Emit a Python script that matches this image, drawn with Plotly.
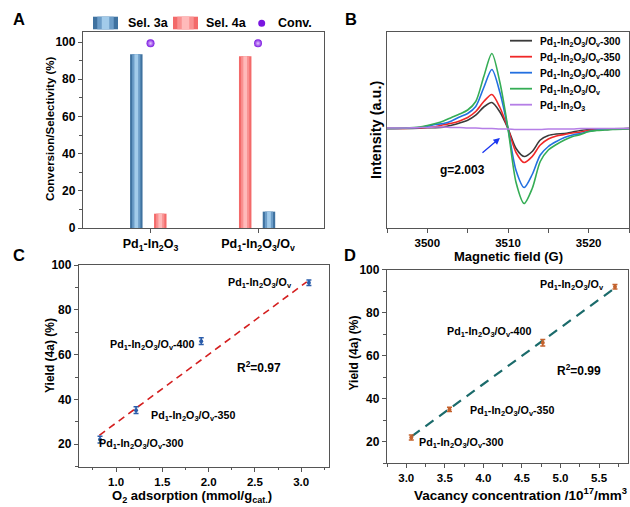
import plotly.graph_objects as go

W, H = 630, 507
FONT = "Liberation Sans, Arial, sans-serif"

# ---- panel A: conversion / selectivity
catalysts = ["Pd<sub>1</sub>-In<sub>2</sub>O<sub>3</sub>",
             "Pd<sub>1</sub>-In<sub>2</sub>O<sub>3</sub>/O<sub>v</sub>"]
sel_3a = [93.5, 8.8]
sel_4a = [7.7, 92.3]
conv = [99.3, 99.3]

# ---- panel B: EPR spectra (intensity, arbitrary units)
field = [3495, 3497, 3499, 3500, 3501, 3502, 3503, 3504, 3505, 3506, 3507, 3508, 3509, 3510,
         3511, 3512, 3513, 3514, 3515, 3516, 3517, 3518, 3519, 3520, 3521, 3522, 3523, 3525]
epr_300 = [0, 0, 0.3, 0.7, 0.7, 1.3, 3.3, 5.6, 8.3, 13.3, 21.5, 26, 16.5, 0,
           -20, -28, -23, -11.5, -7, -5.5, -5, -3.5, -2, -1, -0.7, -0.5, -0.3, 0]
epr_350 = [0, 0, 0.5, 1, 1.7, 3.7, 5.3, 7.6, 11, 17, 27, 34, 21, 0,
           -24, -34, -28, -16.5, -10.5, -7.5, -6, -4.5, -3.5, -2, -1.5, -1, -0.5, 0]
epr_400 = [0, 0.3, 1, 2.3, 4, 5, 7.5, 11.5, 15, 22, 41, 59, 36, 0,
           -42, -59, -46, -26.5, -18, -13, -9, -6.5, -5, -3, -1.5, -1, -0.5, 0]
epr_ov = [0, 0.5, 1.5, 3, 5, 7.5, 11, 14.5, 18.5, 27, 52, 75, 46, 0,
          -54, -75, -60, -33, -21.5, -16, -11.5, -8, -6, -3, -2, -1.5, -1, -0.5]
epr_pure = [0.5, 0.5, 1, 1, 1.5, 1.5, 1, 1, 0.5, 0.5, 0, 0, -0.5, -0.5,
            -1, -1, -1, -1, -0.5, -0.5, -0.5, -0.5, 0, 0, 0, 0, 0, 0]
epr_names = ["Pd<sub>1</sub>-In<sub>2</sub>O<sub>3</sub>/O<sub>v</sub>-300",
             "Pd<sub>1</sub>-In<sub>2</sub>O<sub>3</sub>/O<sub>v</sub>-350",
             "Pd<sub>1</sub>-In<sub>2</sub>O<sub>3</sub>/O<sub>v</sub>-400",
             "Pd<sub>1</sub>-In<sub>2</sub>O<sub>3</sub>/O<sub>v</sub>",
             "Pd<sub>1</sub>-In<sub>2</sub>O<sub>3</sub>"]
epr_series = [epr_300, epr_350, epr_400, epr_ov, epr_pure]

# ---- panel C: yield vs O2 adsorption
o2_ads = [0.827, 1.216, 1.92, 3.083]
yield_c = [22.1, 35.2, 66.0, 92.1]
yield_c_err = [1.5, 1.5, 1.5, 1.2]
fit_c_x = [0.82, 3.06]
fit_c_y = [24.0, 92.5]
r2_c = "R<sup>2</sup>=0.97"

# ---- panel D: yield vs vacancy concentration
vac_conc = [3.065, 3.56, 4.77, 5.706]
yield_d = [22.0, 35.0, 66.0, 92.0]
yield_d_err = [1.2, 1.0, 1.5, 1.0]
fit_d_x = [3.07, 5.72]
fit_d_y = [22.5, 91.8]
r2_d = "R<sup>2</sup>=0.99"

sample_labels = ["Pd<sub>1</sub>-In<sub>2</sub>O<sub>3</sub>/O<sub>v</sub>-300",
                 "Pd<sub>1</sub>-In<sub>2</sub>O<sub>3</sub>/O<sub>v</sub>-350",
                 "Pd<sub>1</sub>-In<sub>2</sub>O<sub>3</sub>/O<sub>v</sub>-400",
                 "Pd<sub>1</sub>-In<sub>2</sub>O<sub>3</sub>/O<sub>v</sub>"]


def fx(px):
    return px / W


def fy(py):
    return 1 - py / H


fig = go.Figure()

# bars drawn as three overlaid layers to fake the cylinder shading
BAR_W = 0.116
blue_layers = [(1.0, "#3f72a0"), (0.66, "#6c9dc8"), (0.3, "#a2cbea")]
red_layers = [(1.0, "#f36a6a"), (0.66, "#f99191"), (0.3, "#ffbaba")]
blue_off = [-0.19, 0.044]
red_off = [0.033, -0.177]
for vals, offs, layers in [(sel_3a, blue_off, blue_layers), (sel_4a, red_off, red_layers)]:
    for frac, col in layers:
        w = BAR_W * frac
        fig.add_trace(go.Bar(
            x=catalysts, y=vals, width=w,
            offset=[o + (BAR_W - w) / 2 for o in offs],
            marker=dict(color=col, line=dict(width=0)),
            showlegend=False, xaxis="x", yaxis="y"))

fig.add_trace(go.Scatter(
    x=catalysts, y=conv, mode="markers",
    marker=dict(size=8, color="#7a16e0", gradient=dict(type="radial", color="#e6c8ff"),
                line=dict(width=0)),
    showlegend=False, xaxis="x", yaxis="y"))

epr_colors = ["#3a3a3a", "#f02828", "#2370e0", "#35ad55", "#b57ee6"]
for ys, col in zip(epr_series, epr_colors):
    fig.add_trace(go.Scatter(
        x=field, y=ys, mode="lines", line=dict(color=col, width=1.6, shape="spline", smoothing=0.8),
        showlegend=False, xaxis="x2", yaxis="y2"))

fig.add_trace(go.Scatter(
    x=fit_c_x, y=fit_c_y, mode="lines", line=dict(color="#d42020", width=1.6, dash="7px,5px"),
    showlegend=False, xaxis="x3", yaxis="y3"))
fig.add_trace(go.Scatter(
    x=o2_ads, y=yield_c, mode="markers",
    marker=dict(size=4, color="#2a5caa"),
    error_y=dict(type="data", array=yield_c_err, color="#2a5caa", thickness=1.5, width=2.5),
    showlegend=False, xaxis="x3", yaxis="y3"))

fig.add_trace(go.Scatter(
    x=fit_d_x, y=fit_d_y, mode="lines", line=dict(color="#1b6b6b", width=2.2, dash="10px,7px"),
    showlegend=False, xaxis="x4", yaxis="y4"))
fig.add_trace(go.Scatter(
    x=vac_conc, y=yield_d, mode="markers",
    marker=dict(size=4, color="#c4622d"),
    error_y=dict(type="data", array=yield_d_err, color="#c4622d", thickness=1.5, width=2.5),
    showlegend=False, xaxis="x4", yaxis="y4"))

tickfont = dict(family=FONT, size=12, color="black", weight="bold")
axis_common = dict(showline=True, linecolor="#555555", linewidth=1.3, mirror=True,
                   showgrid=False, zeroline=False, ticks="outside", ticklen=4,
                   tickwidth=1.2, tickcolor="#555555", tickfont=tickfont, automargin=False)
minor_common = dict(ticks="outside", ticklen=2.5, tickwidth=1, tickcolor="#555555", showgrid=False)

fig.update_layout(
    width=W, height=H, margin=dict(l=0, r=0, t=0, b=0),
    paper_bgcolor="white", plot_bgcolor="white", barmode="overlay",
    font=dict(family=FONT, size=12, color="black", weight="bold"),
    xaxis=dict(axis_common, domain=[fx(83), fx(324)], anchor="y", type="category",
               range=[-0.628, 1.614], tickfont=dict(tickfont, size=12.5)),
    yaxis=dict(axis_common, domain=[fy(228), fy(32)], anchor="x", range=[0, 105.4],
               dtick=20, minor=dict(minor_common, dtick=10)),
    xaxis2=dict(axis_common, domain=[fx(387), fx(629)], anchor="y2", range=[3495, 3525],
                tickvals=[3500, 3510, 3520], tickfont=dict(tickfont, size=11.5),
                minor=dict(minor_common, dtick=5, ticklen=4)),
    yaxis2=dict(axis_common, domain=[fy(228), fy(32)], anchor="x2", range=[-99.5, 96.5],
                ticks="", showticklabels=False),
    xaxis3=dict(axis_common, domain=[fx(79), fx(329)], anchor="y3", range=[0.6, 3.3],
                tick0=1.0, dtick=0.5, tickformat=".1f", tickfont=dict(tickfont, size=11.5),
                minor=dict(minor_common, dtick=0.25)),
    yaxis3=dict(axis_common, domain=[fy(466.7), fy(265)], anchor="x3", range=[10, 100],
                tick0=20, dtick=20, minor=dict(minor_common, dtick=10)),
    xaxis4=dict(axis_common, domain=[fx(387), fx(628)], anchor="y4", range=[2.75, 5.875],
                tick0=3.0, dtick=0.5, tickformat=".1f", tickfont=dict(tickfont, size=11.5),
                minor=dict(minor_common, dtick=0.25)),
    yaxis4=dict(axis_common, domain=[fy(463.3), fy(269.5)], anchor="x4", range=[10, 100],
                tick0=20, dtick=20, minor=dict(minor_common, dtick=10)),
)

ann = []
shapes = []


def txt(text, x, y, size=12, xref="paper", yref="paper", xanchor="center", yanchor="middle",
        angle=0):
    ann.append(dict(text=text, x=x, y=y, xref=xref, yref=yref, xanchor=xanchor,
                    yanchor=yanchor, textangle=angle, showarrow=False,
                    font=dict(family=FONT, size=size, color="black", weight="bold")))


# panel letters
for letter, (px, py) in zip("ABCD", [(19, 19), (351, 19), (19, 255), (350, 255)]):
    txt(letter, fx(px), fy(py), size=16.5)

# axis titles
txt("Conversion/Selectivity (%)", fx(50), fy(129), size=11.5, angle=-90)
txt("Intensity (a.u.)", fx(376), fy(130), size=14.5, angle=-90)
txt("Magnetic field (G)", fx(508), fy(256.5), size=13)
txt("Yield (4a) (%)", fx(50), fy(356), size=12, angle=-90)
txt("O<sub>2</sub> adsorption (mmol/g<sub>cat.</sub>)", fx(192), fy(496), size=13)
txt("Yield (4a) (%)", fx(353), fy(353.5), size=12, angle=-90)
txt("Vacancy concentration /10<sup>17</sup>/mm<sup>3</sup>", fx(520), fy(493.5), size=13.5)

# legend of panel A
for (x0, x1), layers, label, tx in [((93, 118), blue_layers, "Sel. 3a", 126),
                                    ((173, 198), red_layers, "Sel. 4a", 204)]:
    for frac, col in layers:
        cx, hw = (x0 + x1) / 2, (x1 - x0) / 2 * frac
        shapes.append(dict(type="rect", xref="paper", yref="paper", x0=fx(cx - hw), x1=fx(cx + hw),
                           y0=fy(29.3), y1=fy(16.7), fillcolor=col, line=dict(width=0)))
    txt(label, fx(tx), fy(23.3), size=12.5, xanchor="left")
shapes.append(dict(type="circle", xref="paper", yref="paper", x0=fx(258.2), x1=fx(265.2),
                   y0=fy(26.8), y1=fy(19.8), fillcolor="#7a16e0", line=dict(width=0)))
txt("Conv.", fx(276), fy(23.3), size=12.5, xanchor="left")

# legend of panel B
for i, (name, col) in enumerate(zip(epr_names, epr_colors)):
    ly = 40.7 + 16 * i
    shapes.append(dict(type="line", xref="paper", yref="paper", x0=fx(510), x1=fx(532),
                       y0=fy(ly), y1=fy(ly), line=dict(color=col, width=1.8)))
    txt(name, fx(538), fy(ly + 1.5), size=10.2, xanchor="left")

# g value arrow in panel B
txt("g=2.003", 3504.4, -41.5, xref="x2", yref="y2")
ann.append(dict(x=3509.0, y=-9.5, ax=3506.65, ay=-25.5, xref="x2", yref="y2", axref="x2",
                ayref="y2", text="", showarrow=True, arrowhead=2, arrowsize=1, arrowwidth=1.3,
                arrowcolor="#1a36f0"))

# point labels in C and D
c_label_pos = [(1.265, 20), (1.832, 32.5), (1.384, 64.2), (2.557, 92)]
d_label_pos = [(3.71, 19.2), (4.371, 34.1), (4.073, 71.2), (5.143, 93)]
for lab, (x, y) in zip(sample_labels, c_label_pos):
    txt(lab, x, y, size=10.7, xref="x3", yref="y3")
for lab, (x, y) in zip(sample_labels, d_label_pos):
    txt(lab, x, y, size=10.7, xref="x4", yref="y4")
txt(r2_c, 2.54, 54.4, size=12, xref="x3", yref="y3")
txt(r2_d, 5.234, 53.1, size=12, xref="x4", yref="y4")

fig.update_layout(annotations=ann, shapes=shapes)
# drop the browser's default 8px body margin so the 630x507 figure fills the window
fig.write_html("out.html", config={"displayModeBar": False},
               post_script="document.body.style.margin='0';")
